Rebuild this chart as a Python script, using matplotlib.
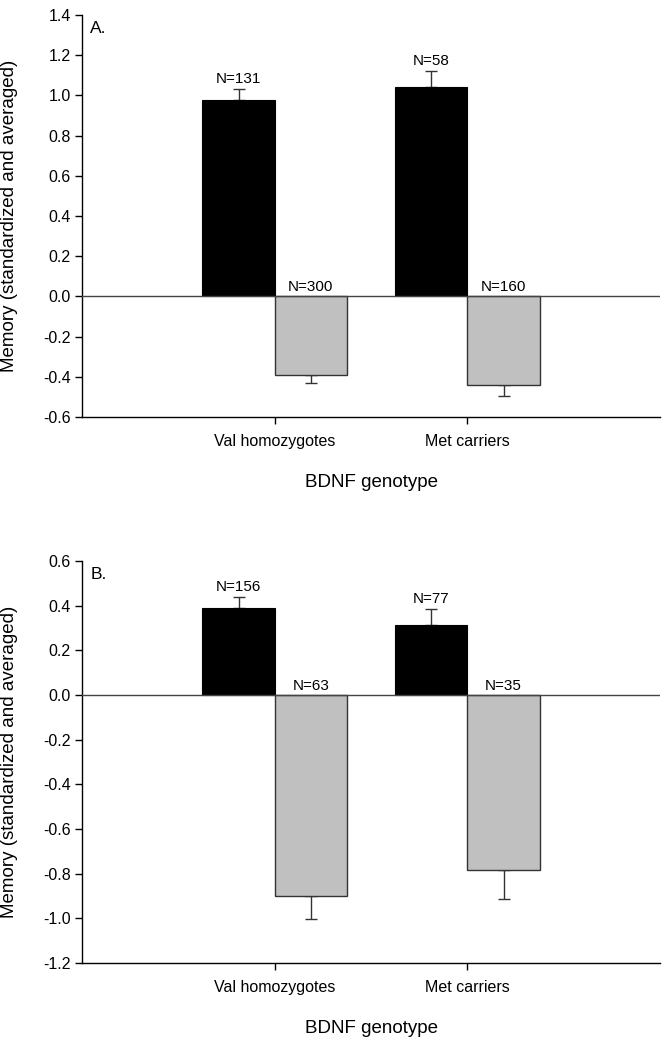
import matplotlib
matplotlib.use("Agg")
import matplotlib.pyplot as plt
import numpy as np

plt.rcParams['font.family'] = ['Liberation Sans', 'DejaVu Sans']
plt.rcParams['axes.unicode_minus'] = False

genotypes = ["Val homozygotes", "Met carriers"]

# panel A
a_black = [0.975, 1.04]
a_black_err = [0.055, 0.08]
a_black_n = ["N=131", "N=58"]
a_gray = [-0.393, -0.442]
a_gray_err = [0.038, 0.053]
a_gray_n = ["N=300", "N=160"]
a_ticks = [1.4, 1.2, 1.0, 0.8, 0.6, 0.4, 0.2, 0.0, -0.2, -0.4, -0.6]

# panel B
b_black = [0.389, 0.315]
b_black_err = [0.049, 0.068]
b_black_n = ["N=156", "N=77"]
b_gray = [-0.900, -0.782]
b_gray_err = [0.104, 0.133]
b_gray_n = ["N=63", "N=35"]
b_ticks = [0.6, 0.4, 0.2, 0.0, -0.2, -0.4, -0.6, -0.8, -1.0, -1.2]


def panel(ax, black, black_err, black_n, gray, gray_err, gray_n, ticks, tag):
    x = np.arange(1, len(genotypes) + 1)
    w = 0.375
    xb = x - w / 2
    xg = x + w / 2
    ax.bar(xb, black, w, color='black', edgecolor='black', linewidth=0.8, zorder=2)
    ax.bar(xg, gray, w, color='#c0c0c0', edgecolor='#333333', linewidth=1.0, zorder=2)
    # one-sided error bars, drawn behind the bars so the inner cap is hidden
    ax.errorbar(xb, black, yerr=[np.zeros(len(black)), black_err], fmt='none',
                ecolor='#333333', elinewidth=1.0, capsize=4.5, capthick=1.0, zorder=1)
    ax.errorbar(xg, gray, yerr=[gray_err, np.zeros(len(gray))], fmt='none',
                ecolor='#333333', elinewidth=1.0, capsize=4.5, capthick=1.0, zorder=1)
    ax.axhline(0, color='#444444', linewidth=1.0, zorder=4)
    for i in range(len(x)):
        ax.annotate(black_n[i], (xb[i], black[i] + black_err[i]), xytext=(0, 2.5),
                    textcoords='offset points', ha='center', va='bottom', fontsize=11)
        ax.annotate(gray_n[i], (xg[i], 0), xytext=(0, 1.5),
                    textcoords='offset points', ha='center', va='bottom', fontsize=11)
    ax.set_xlim(0, 3)
    ax.set_ylim(min(ticks), max(ticks))
    ax.set_yticks(ticks)
    ax.set_yticklabels(['%.1f' % t for t in ticks])
    ax.set_xticks(x)
    ax.set_xticklabels(genotypes)
    ax.tick_params(direction='out', length=5, width=1, labelsize=11.5, pad=3)
    ax.tick_params(axis='x', pad=7)
    for s in ['top', 'right']:
        ax.spines[s].set_visible(False)
    for s in ['left', 'bottom']:
        ax.spines[s].set_linewidth(1.0)
    ax.set_ylabel('Memory (standardized and averaged)', fontsize=13.5)
    ax.yaxis.set_label_coords(-0.111, 0.5)
    ax.set_xlabel('BDNF genotype', fontsize=13.5)
    ax.xaxis.set_label_coords(0.5, -0.142)
    ax.text(0.014, 0.985, tag, transform=ax.transAxes, ha='left', va='top', fontsize=12.5)


fig = plt.figure(figsize=(6.67, 10.4), dpi=100)
ax1 = fig.add_axes([0.123, 0.599, 0.8666, 0.3866])
ax2 = fig.add_axes([0.123, 0.074, 0.8666, 0.3866])
panel(ax1, a_black, a_black_err, a_black_n, a_gray, a_gray_err, a_gray_n, a_ticks, 'A.')
panel(ax2, b_black, b_black_err, b_black_n, b_gray, b_gray_err, b_gray_n, b_ticks, 'B.')

fig.savefig('out.png', dpi=100)
